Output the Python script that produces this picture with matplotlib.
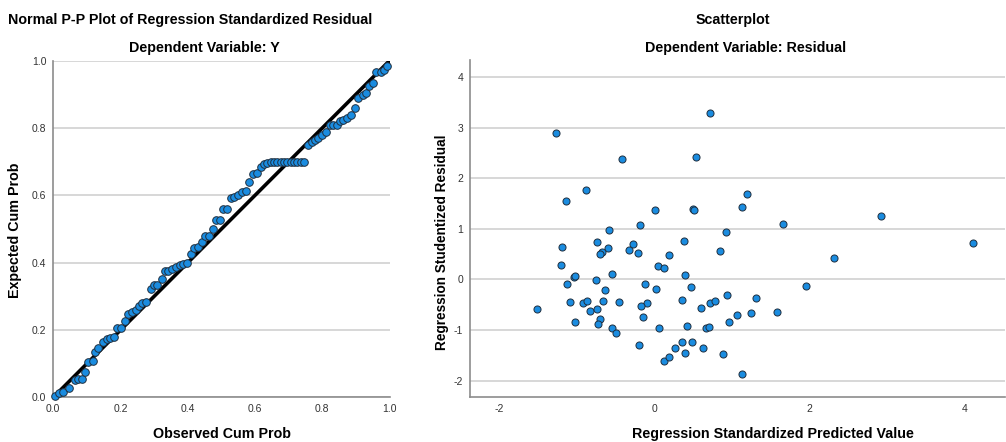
import matplotlib.pyplot as plt

plt.rcParams['font.family'] = ['Liberation Sans', 'DejaVu Sans']
plt.rcParams['axes.unicode_minus'] = False

# P-P plot points (observed cum prob, expected cum prob)
obs_cum = [0.005, 0.017, 0.030, 0.047, 0.065, 0.074, 0.084, 0.094, 0.102, 0.117,
           0.124, 0.134, 0.149, 0.159, 0.169, 0.181, 0.188, 0.201, 0.213, 0.223,
           0.235, 0.245, 0.255, 0.265, 0.275, 0.290, 0.299, 0.309, 0.322, 0.332,
           0.342, 0.354, 0.365, 0.377, 0.387, 0.398, 0.409, 0.418, 0.431, 0.441,
           0.451, 0.463, 0.474, 0.484, 0.496, 0.506, 0.517, 0.527, 0.538, 0.550,
           0.560, 0.573, 0.583, 0.595, 0.605, 0.617, 0.627, 0.636, 0.646, 0.656,
           0.666, 0.676, 0.686, 0.696, 0.706, 0.716, 0.726, 0.736, 0.746, 0.758,
           0.768, 0.778, 0.788, 0.798, 0.811, 0.823, 0.833, 0.843, 0.853, 0.862,
           0.874, 0.885, 0.898, 0.907, 0.920, 0.930, 0.940, 0.952, 0.960, 0.974,
           0.983, 0.993]
exp_cum = [0.004, 0.012, 0.017, 0.027, 0.051, 0.053, 0.055, 0.076, 0.106, 0.108,
           0.135, 0.145, 0.165, 0.172, 0.177, 0.178, 0.205, 0.205, 0.227, 0.247,
           0.254, 0.259, 0.271, 0.279, 0.284, 0.321, 0.333, 0.334, 0.352, 0.376,
           0.376, 0.380, 0.386, 0.393, 0.396, 0.398, 0.426, 0.442, 0.447, 0.460,
           0.479, 0.480, 0.500, 0.527, 0.527, 0.558, 0.560, 0.591, 0.596, 0.601,
           0.610, 0.613, 0.640, 0.663, 0.665, 0.685, 0.692, 0.695, 0.698, 0.700,
           0.700, 0.700, 0.700, 0.700, 0.700, 0.700, 0.700, 0.700, 0.700, 0.749,
           0.757, 0.764, 0.771, 0.779, 0.787, 0.809, 0.809, 0.809, 0.821, 0.823,
           0.829, 0.838, 0.860, 0.888, 0.898, 0.903, 0.925, 0.933, 0.965, 0.965,
           0.972, 0.985]

# Scatterplot: standardized predicted value vs studentized residual
pred = [-1.27, 0.72, -0.42, 0.54, -0.88, -1.14, 1.20, 1.13, 0.01, 0.50, 0.51,
        -0.19, -0.59, 0.93, -1.19, -0.74, -0.28, 0.38, -0.60, -0.67, -0.70,
        -0.33, -0.21, 0.19, 0.85, -1.21, 0.05, 0.13, -1.03, -1.02, -0.55, 0.39,
        -1.12, -0.75, -0.12, 0.02, 0.47, -0.63, 0.94, -1.09, -0.92, -0.87,
        -0.66, -0.45, -0.10, -0.17, 0.36, 0.72, 0.78, 0.60, 1.07, -1.51, -0.83,
        -0.74, -0.15, -0.70, 0.96, -1.02, -0.73, -0.55, -0.49, 0.06, 0.42, 0.67,
        0.71, -0.20, 0.36, 0.48, 0.27, 0.39, 0.63, 0.88, 0.12, 0.19, 1.13,
        1.66, 2.92, 4.11, 2.31, 1.96, 1.31, 1.25, 1.58]
resid = [2.89, 3.29, 2.37, 2.42, 1.77, 1.55, 1.69, 1.43, 1.36, 1.38, 1.36,
         1.07, 0.97, 0.93, 0.64, 0.74, 0.70, 0.76, 0.61, 0.54, 0.50,
         0.57, 0.51, 0.48, 0.55, 0.29, 0.26, 0.22, 0.05, 0.06, 0.10, 0.08,
         -0.09, -0.01, -0.10, -0.20, -0.16, -0.22, -0.32, -0.45, -0.47, -0.42,
         -0.42, -0.44, -0.47, -0.53, -0.40, -0.46, -0.42, -0.57, -0.70, -0.59, -0.63,
         -0.58, -0.74, -0.78, -0.84, -0.84, -0.88, -0.96, -1.07, -0.96, -0.92, -0.96,
         -0.94, -1.30, -1.23, -1.23, -1.36, -1.46, -1.36, -1.48, -1.61, -1.54, -1.87,
         1.09, 1.26, 0.72, 0.43, -0.13, -0.37, -0.67, -0.65]

pp_ticks = [0.0, 0.2, 0.4, 0.6, 0.8, 1.0]
sc_xticks = [-2, 0, 2, 4]
sc_yticks = [-2, -1, 0, 1, 2, 3, 4]

dot = '#1a8ce0'
grid_col = '#d4d4d4'
axis_col = '#8c8c8c'
W, H = 1006, 442

fig = plt.figure(figsize=(10.06, 4.42), dpi=100)


def px_axes(l, r, t, b):
    return fig.add_axes([l / W, 1 - b / H, (r - l) / W, (b - t) / H])


def px_text(x, y, s, **kw):
    kw.setdefault('fontsize', 10.3)
    fig.text(x / W, 1 - y / H, s, ha='center', va='center',
             fontweight='bold', **kw)


def style(ax):
    for s in ['top', 'right']:
        ax.spines[s].set_visible(False)
    for s in ['left', 'bottom']:
        ax.spines[s].set_color(axis_col)
        ax.spines[s].set_linewidth(1.2)
    ax.tick_params(length=0, labelsize=7.5, labelcolor='#333333', pad=5)
    ax.set_axisbelow(True)
    ax.yaxis.grid(True, color=grid_col, linewidth=1.3)


# left: P-P plot
ax1 = px_axes(53.3, 389.6, 60.6, 397.3)
style(ax1)
ax1.set_xlim(0, 1)
ax1.set_ylim(0, 1)
ax1.set_xticks(pp_ticks)
ax1.set_yticks(pp_ticks)
ax1.set_xticklabels(['%.1f' % t for t in pp_ticks])
ax1.set_yticklabels(['%.1f' % t for t in pp_ticks])
ax1.plot([0, 1], [0, 1], color='black', linewidth=2.6, zorder=2)
ax1.scatter(obs_cum, exp_cum, s=30, color=dot, edgecolor='#1f2f3f',
            linewidth=0.7, zorder=3, clip_on=False)

# right: scatterplot
ax2 = px_axes(470, 1005, 60, 397.3)
style(ax2)
ax2.set_xlim(-2.377, 4.521)
ax2.set_ylim(-2.332, 4.334)
ax2.set_xticks(sc_xticks)
ax2.set_yticks(sc_yticks)
ax2.scatter(pred, resid, s=26, color=dot, edgecolor='#1f2f3f',
            linewidth=0.7, zorder=3)

# titles and axis labels
px_text(190, 20, 'Normal P-P Plot of Regression Standardized Residual')
px_text(204, 48, 'Dependent Variable: Y')
px_text(733, 20, 'Scatterplot')
px_text(746, 48, 'Dependent Variable: Residual')
px_text(222, 434, 'Observed Cum Prob')
px_text(773, 434, 'Regression Standardized Predicted Value')
px_text(15, 230, 'Expected Cum Prob', rotation=90)
px_text(442, 242, 'Regression Studentized Residual', rotation=90, fontsize=9.8)

fig.savefig('out.png', dpi=100)
